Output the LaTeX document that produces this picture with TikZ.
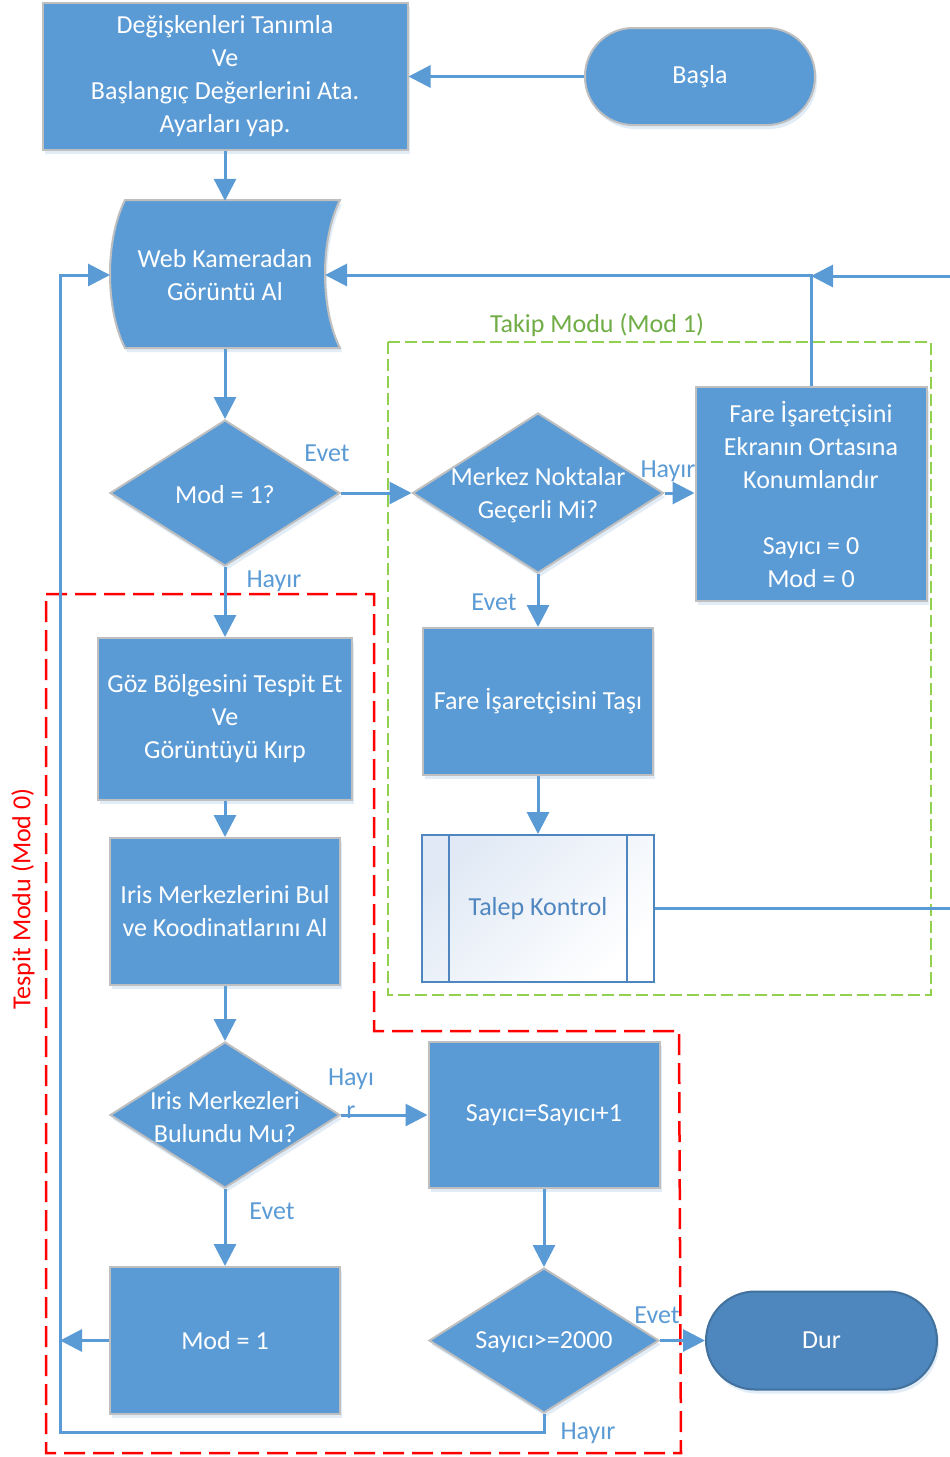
\documentclass[tikz,border=0pt]{standalone}
\usepackage{fontspec}
\setmainfont{Carlito}
\usetikzlibrary{shapes.geometric,arrows.meta,shadows}
\definecolor{boxblue}{HTML}{5B9BD5}
\definecolor{edgegray}{HTML}{BFBFBF}
\definecolor{durblue}{HTML}{4E86BE}
\definecolor{durborder}{HTML}{41719C}
\definecolor{lineblue}{HTML}{5B9BD5}
\definecolor{talepblue}{HTML}{4F86C0}
\definecolor{talepfill}{HTML}{E0E9F5}
\definecolor{tgreen}{HTML}{70AD47}
\definecolor{dgreen}{HTML}{92D050}
\definecolor{tred}{HTML}{FF0000}
\begin{document}
\begin{tikzpicture}[x=1pt,y=-1pt,
  font=\fontsize{26}{33}\selectfont,
  shadowed/.style={drop shadow={shadow xshift=2pt,shadow yshift=-4pt,opacity=0.18,fill=boxblue,draw=none}},
  procbox/.style={rectangle,draw=edgegray,line width=2pt,fill=boxblue,text=white,align=center,inner sep=0pt,shadowed},
  termbox/.style={procbox,rounded corners=48pt},
  decbox/.style={diamond,draw=edgegray,line width=2pt,fill=boxblue,inner sep=0pt,shadowed},
  txtw/.style={text=white,align=center,inner sep=0pt},
  lbl/.style={text=lineblue,align=center,inner sep=0pt},
  conn/.style={line width=3pt,draw=lineblue},
  arr/.style={conn,-{Triangle[length=22pt,width=22pt]}},
  gdash/.style={draw=dgreen,line width=2pt,dash pattern=on 12pt off 5pt},
  rdash/.style={draw=tred,line width=2.5pt,dash pattern=on 21pt off 8pt}]
\useasboundingbox (0,0) rectangle (950,1457);
\fill[white] (0,0) rectangle (950,1457);

% group frames
\draw[gdash] (388,342) rectangle (931,995);
\draw[rdash] (46,594) -- (374,594) -- (374,1031) -- (679,1031) -- (681,1453) -- (46,1453) -- cycle;
\node[text=tgreen,inner sep=0pt] (takip) at (597,325) {Takip Modu (Mod 1)};
\node[text=tred,inner sep=0pt,rotate=90] (tespit) at (23,899) {Tespit Modu (Mod 0)};

% nodes
\node[procbox,minimum width=365,minimum height=147] (init) at (225,76.5)
  {\raisebox{-2pt}{\shortstack{}}Değişkenleri Tanımla\\Ve\\Başlangıç Değerlerini Ata.\\Ayarları yap.};
\node[termbox,minimum width=230,minimum height=97] (basla) at (700,76.5) {Başla};

\draw[draw=edgegray,line width=2pt,fill=boxblue,shadowed]
  (125,200) -- (340,200) .. controls (320,240) and (320,308) .. (340,348)
  -- (125,348) .. controls (105,308) and (105,240) .. (125,200) -- cycle;
\node[txtw,minimum width=230,minimum height=148] (cam) at (225,275) {Web Kameradan\\Görüntü Al};
\coordinate (camL) at (110,275);
\coordinate (camR) at (325,275);

\node[decbox,minimum width=230,minimum height=146] (mod1q) at (225,493) {};
\node[txtw] (mod1qt) at ([yshift=-2pt]mod1q.center) {Mod = 1?};

\node[decbox,minimum width=251,minimum height=160] (merkez) at (538,493) {};
\node[txtw] (merkezt) at ([yshift=-2pt]merkez.center) {Merkez Noktalar\\Geçerli Mi?};

\node[procbox,minimum width=231,minimum height=214] (fare0) at (811,494)
  {Fare İşaretçisini\\Ekranın Ortasına\\Konumlandır\\\mbox{}\\Sayıcı = 0\\Mod = 0};

\node[procbox,minimum width=230,minimum height=147] (tasi) at (538,701.5) {Fare İşaretçisini Taşı};

\node[rectangle,draw=talepblue,line width=2pt,top color=talepfill,bottom color=white,shading angle=45,
  text=talepblue,inner sep=0pt,minimum width=232,minimum height=147] (talep) at (538,908.5) {Talep Kontrol};
\draw[draw=talepblue,line width=2pt] ([xshift=28pt]talep.north west) -- ([xshift=28pt]talep.south west);
\draw[draw=talepblue,line width=2pt] ([xshift=-28pt]talep.north east) -- ([xshift=-28pt]talep.south east);

\node[procbox,minimum width=254,minimum height=162] (goz) at (225,719)
  {Göz Bölgesini Tespit Et\\Ve\\Görüntüyü Kırp};
\node[procbox,minimum width=230,minimum height=147] (iris) at (225,911.5)
  {Iris Merkezlerini Bul\\ve Koodinatlarını Al};

\node[decbox,minimum width=230,minimum height=146] (irisq) at (225,1115) {};
\node[txtw] (irisqt) at ([yshift=-2pt]irisq.center) {Iris Merkezleri\\Bulundu Mu?};

\node[procbox,minimum width=231,minimum height=146] (say) at (544,1115) {Sayıcı=Sayıcı+1};

\node[decbox,minimum width=230,minimum height=145] (sayq) at (544,1340.5) {};
\node[txtw] (sayqt) at ([yshift=-2pt]sayq.center) {Sayıcı>=2000};

\node[procbox,minimum width=230,minimum height=147] (mod1b) at (225,1340.5) {Mod = 1};

\node[rectangle,rounded corners=49pt,draw=durborder,line width=2pt,fill=durblue,text=white,
  inner sep=0pt,minimum width=231,minimum height=98,shadowed] (dur) at (821.5,1340.5) {Dur};

% loop coordinates
\coordinate (rr1) at (956,908.5);
\coordinate (rr2) at (956,276);
\coordinate (junc) at (fare0.north |- rr2);
\coordinate (loopB) at (544,1432);
\coordinate (loopC) at (60,1432);
\coordinate (loopD) at (60,275);

% connectors
\draw[arr] (basla.west) -- (init.east);
\draw[arr] (init.south) -- (cam.north);
\draw[arr] (cam.south) -- (mod1q.north);
\draw[arr] (mod1q.east) -- (merkez.west);
\draw[arr] (merkez.east) -- (merkez.east -| fare0.west);
\draw[arr] (merkez.south) -- (tasi.north);
\draw[arr] (tasi.south) -- (talep.north);
\draw[conn] (talep.east) -- (rr1) -- (rr2);
\draw[arr] (rr2) -- (junc);
\draw[arr] (fare0.north) |- (camR);
\draw[arr] (mod1q.south) -- (goz.north);
\draw[arr] (goz.south) -- (iris.north);
\draw[arr] (iris.south) -- (irisq.north);
\draw[arr] (irisq.east) -- (say.west);
\draw[arr] (irisq.south) -- (mod1b.north);
\draw[arr] (say.south) -- (sayq.north);
\draw[arr] (sayq.east) -- (dur.west);
\draw[arr] (sayq.south) -- (loopB) -- (loopC) -- (loopD) -- (camL);
\draw[arr] (mod1b.west) -- (mod1b.west -| loopC);

% labels
\node[lbl] (l1) at (327,453) {Evet};
\node[lbl] (l2) at (668,471) {Hayır};
\node[lbl] (l3) at (494,602) {Evet};
\node[lbl] (l4) at (274,581) {Hayır};
\node[lbl] (l5) at (351,1093.5) {Hayı\\r};
\node[lbl] (l6) at (272,1211) {Evet};
\node[lbl] (l7) at (657,1315) {Evet};
\node[lbl] (l8) at (588,1433) {Hayır};
\end{tikzpicture}
\end{document}
